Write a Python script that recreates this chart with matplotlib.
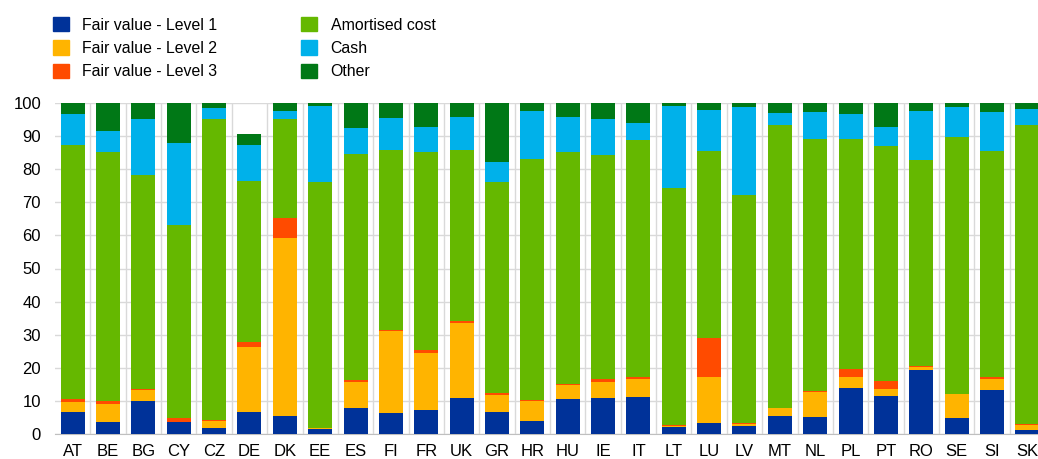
import matplotlib.pyplot as plt
import numpy as np
from matplotlib.patches import Patch

plt.rcParams['font.family'] = ['Liberation Sans', 'DejaVu Sans']

countries = ['AT', 'BE', 'BG', 'CY', 'CZ', 'DE', 'DK', 'EE', 'ES', 'FI',
             'FR', 'UK', 'GR', 'HR', 'HU', 'IE', 'IT', 'LT', 'LU', 'LV',
             'MT', 'NL', 'PL', 'PT', 'RO', 'SE', 'SI', 'SK']

# shares in percent
level1 = [6.7, 3.6, 10.0, 3.5, 1.8, 6.5, 5.4, 1.6, 7.8, 6.4,
          7.1, 11.0, 6.5, 3.8, 10.6, 11.0, 11.1, 2.1, 3.4, 2.5,
          5.5, 5.2, 14.0, 11.6, 19.4, 4.7, 13.4, 1.1]
level2 = [3.1, 5.5, 3.4, 0.2, 2.0, 19.7, 53.7, 0.1, 8.0, 24.8,
          17.3, 22.5, 5.4, 6.3, 4.2, 4.8, 5.4, 0.4, 13.9, 0.6,
          2.3, 7.5, 3.3, 2.0, 0.9, 7.4, 3.3, 1.7]
level3 = [0.8, 1.0, 0.1, 1.1, 0.4, 1.6, 6.2, 0.1, 0.5, 0.3,
          1.1, 0.7, 0.4, 0.3, 0.3, 0.7, 0.6, 0.2, 11.6, 0.1,
          0.1, 0.4, 2.2, 2.3, 0.1, 0.1, 0.4, 0.3]
amortised = [76.8, 75.2, 64.8, 58.3, 90.9, 48.5, 30.0, 74.2, 68.4, 54.4,
             59.6, 51.7, 63.8, 72.7, 70.0, 67.9, 71.7, 71.7, 56.7, 69.1,
             85.6, 76.0, 69.6, 71.2, 62.5, 77.6, 68.3, 90.3]
cash = [9.2, 6.1, 16.9, 24.9, 3.4, 11.0, 2.4, 23.0, 7.6, 9.5,
        7.7, 10.0, 6.0, 14.4, 10.6, 10.9, 5.1, 24.8, 12.2, 26.6,
        3.5, 8.1, 7.5, 5.7, 14.6, 9.0, 11.9, 4.7]
other = [3.4, 8.6, 4.8, 12.0, 1.5, 3.3, 2.3, 1.0, 7.7, 4.6,
         7.2, 4.1, 17.9, 2.5, 4.3, 4.7, 6.1, 0.8, 2.2, 1.1,
         3.0, 2.8, 3.4, 7.2, 2.5, 1.2, 2.7, 1.9]

series = [
    ('Fair value - Level 1', level1, '#003299'),
    ('Fair value - Level 2', level2, '#FFB400'),
    ('Fair value - Level 3', level3, '#FF4B00'),
    ('Amortised cost', amortised, '#65B800'),
    ('Cash', cash, '#00B1EA'),
    ('Other', other, '#007816'),
]

fig = plt.figure(figsize=(10.38, 4.59), dpi=100)
ax = fig.add_axes([55 / 1038, 25 / 459, 990 / 1038, 331 / 459])

x = np.arange(len(countries))
bottom = np.zeros(len(countries))
for name, vals, col in series:
    ax.bar(x, vals, bottom=bottom, width=0.68, color=col, label=name, zorder=3)
    bottom += np.array(vals)

ax.set_xlim(-0.5, len(countries) - 0.5)
ax.set_ylim(0, 100)
ax.set_yticks(range(0, 101, 10))
ax.set_xticks(x)
ax.set_xticklabels(countries)
ax.set_xticks(x[:-1] + 0.5, minor=True)
ax.grid(axis='y', color='#d9d9d9', linewidth=1, zorder=0)
ax.grid(axis='x', which='minor', color='#d9d9d9', linewidth=1, zorder=0)
ax.tick_params(axis='both', which='both', length=0, labelsize=12, colors='#000000')
ax.tick_params(axis='x', pad=7)
ax.tick_params(axis='y', pad=10)
for s in ['top', 'right', 'left']:
    ax.spines[s].set_visible(False)
ax.spines['bottom'].set_color('#bfbfbf')

handles = [Patch(color=c) for _, _, c in series]
labels = [n for n, _, _ in series]
fig.legend(handles, labels, loc='upper left', bbox_to_anchor=(53 / 1038, 1 - 17 / 459),
           ncol=2, frameon=False, fontsize=11.4, handlelength=1.0, handleheight=1.0,
           handletextpad=0.85, columnspacing=5.3, labelspacing=0.5,
           borderpad=0, borderaxespad=0)

fig.savefig('out.png', dpi=100)
